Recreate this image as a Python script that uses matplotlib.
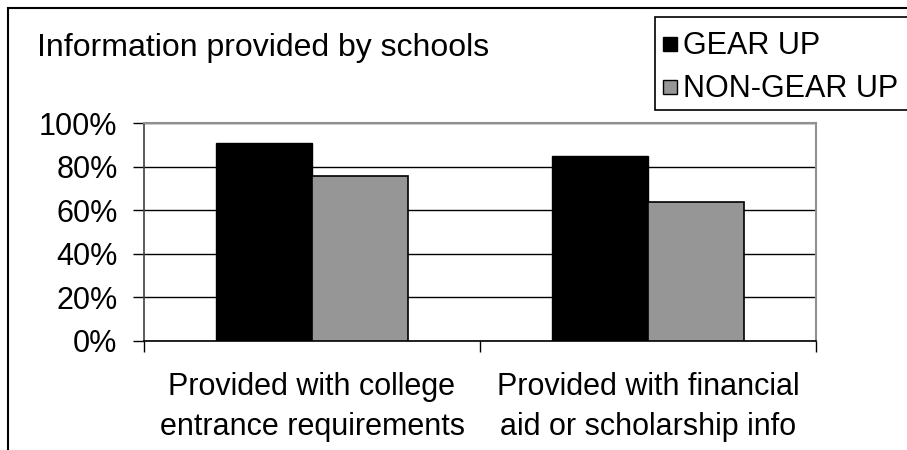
import matplotlib
matplotlib.use("Agg")
import matplotlib.pyplot as plt
from matplotlib.patches import Rectangle
import numpy as np

categories = ["Provided with college\nentrance requirements",
              "Provided with financial\naid or scholarship info"]
series_names = ["GEAR UP", "NON-GEAR UP"]
gear_up = [91, 85]
non_gear_up = [76, 64]
y_ticks = [0, 20, 40, 60, 80, 100]
y_tick_labels = ["0%", "20%", "40%", "60%", "80%", "100%"]
title_text = "Information provided by schools"

plt.rcParams['font.family'] = ['Liberation Sans', 'DejaVu Sans']

W, H = 907, 450
FS = 22
fig = plt.figure(figsize=(W / 100, H / 100), dpi=100)
fig.patch.set_facecolor("white")

ax = fig.add_axes([144 / W, 1 - 341 / H, 672 / W, 217.7 / H])
x = np.arange(len(categories))
bw = 0.2857
ax.bar(x - bw / 2, gear_up, bw, color="black", edgecolor="black", lw=1, zorder=3)
ax.bar(x + bw / 2, non_gear_up, bw, color="#969696", edgecolor="black", lw=1.2, zorder=3)

ax.set_xlim(-0.5, len(categories) - 0.5)
ax.set_ylim(0, 100)
ax.set_yticks(y_ticks)
ax.set_yticklabels(y_tick_labels, fontsize=FS)
ax.yaxis.grid(True, color="black", lw=1, zorder=0)
ax.set_axisbelow(True)

ax.set_xticks(np.arange(-0.5, len(categories)), minor=False)
ax.set_xticklabels([""] * (len(categories) + 1))
ax.set_xticks(x, minor=True)
ax.set_xticklabels(categories, minor=True, fontsize=FS, linespacing=1.45)
ax.tick_params(axis="x", which="minor", length=0, pad=22)
ax.tick_params(axis="x", which="major", length=8, width=1, color="black", direction="out")
ax.tick_params(axis="y", length=8, width=1, color="black", pad=11)

for s in ["top", "right"]:
    ax.spines[s].set_color("#909090")
    ax.spines[s].set_linewidth(1.5)
ax.spines["left"].set_color("#404040")
ax.spines["bottom"].set_color("black")
ax.spines["left"].set_linewidth(1.2)
ax.spines["bottom"].set_linewidth(1.2)

# Outer chart border (extends beyond image on right/bottom)
fig.add_artist(Rectangle((8 / W, -0.1), 1.2, 1 - 8 / H + 0.1, transform=fig.transFigure,
                         fill=False, edgecolor="black", lw=1.5))

fig.text(37 / W, 1 - 56 / H, title_text, fontsize=23, va="baseline", ha="left")

# Legend box
fig.add_artist(Rectangle((655 / W, 1 - 110 / H), 1.0, 93 / H, transform=fig.transFigure,
                         facecolor="white", edgecolor="black", lw=1.2))
leg_colors = ["black", "#969696"]
leg_y = [44, 87]
for name, c, yy in zip(series_names, leg_colors, leg_y):
    fig.add_artist(Rectangle((663 / W, 1 - (yy + 7) / H), 14 / W, 14 / H,
                             transform=fig.transFigure, facecolor=c, edgecolor="black", lw=1))
    fig.text(683 / W, 1 - (yy + 10) / H, name, fontsize=FS, va="baseline", ha="left")

fig.savefig("out.png", dpi=100)
